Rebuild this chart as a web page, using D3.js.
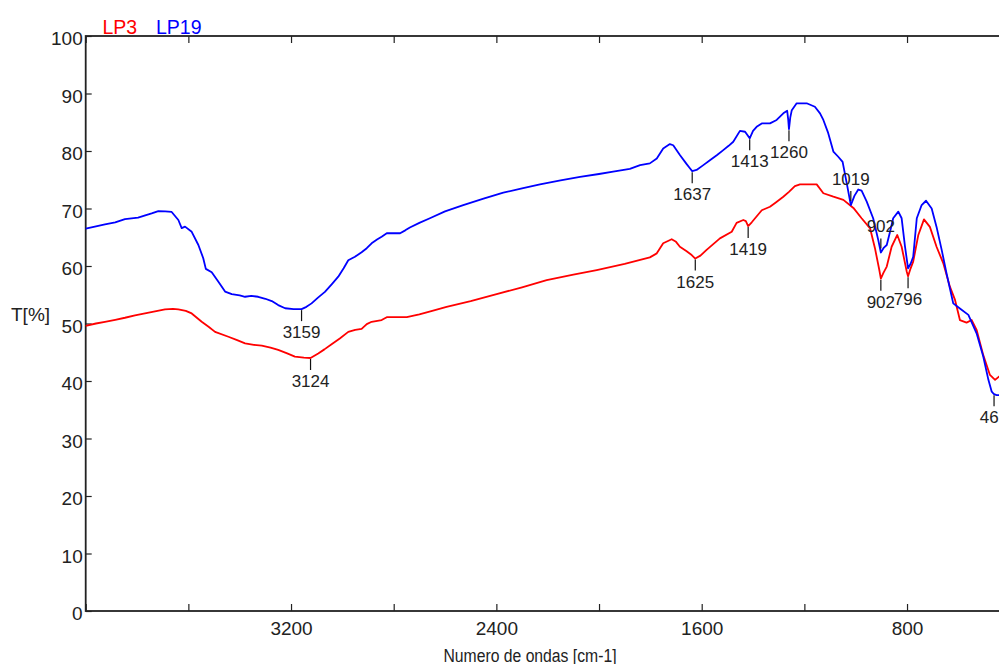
<!DOCTYPE html>
<html>
<head>
<meta charset="utf-8">
<script src="https://cdn.jsdelivr.net/npm/d3@7/dist/d3.min.js"></script>
<style>
  html, body { margin: 0; padding: 0; background: #fff; }
  svg { display: block; font-family: "Liberation Sans", Arial, sans-serif; }
</style>
</head>
<body>
<svg id="chart" width="999" height="664"></svg>
<script>
// FTIR transmittance spectra, wavenumber axis runs high -> low
const seriesNames = ["LP3", "LP19"];
const seriesColors = ["#ff0000", "#0000ff"];

// LP19 (blue)
const lp19Wave = [4000,3960,3925,3885,3847,3796,3743,3717,3690,3665,3639,3626,3613,3587,3561,3542,3532,3509,3483,3457,3431,3400,3379,3355,3328,3300,3275,3250,3223,3190,3159,3140,3120,3095,3068,3040,3016,2995,2977,2951,2935,2925,2905,2886,2865,2847,2827,2800,2775,2755,2737,2700,2659,2600,2529,2450,2373,2300,2230,2150,2074,2000,1945,1880,1840,1802,1775,1750,1724,1711,1685,1660,1646,1637,1620,1595,1568,1540,1516,1495,1477,1451,1431,1413,1400,1386,1366,1334,1308,1282,1267,1263,1260,1255,1249,1230,1191,1159,1139,1126,1107,1087,1068,1051,1035,1019,1005,990,977,957,932,912,902,890,879,866,854,834,821,808,796,786,776,762,743,726,704,685,665,646,620,594,561,529,503,483,470,461,451,430,400];
const lp19T = [66.5,66.9,67.25,67.6,68.15,68.4,69.15,69.55,69.5,69.4,68.0,66.6,66.85,65.95,63.65,61.35,59.5,58.9,57.25,55.55,55.1,54.9,54.65,54.8,54.65,54.3,53.9,53.2,52.65,52.5,52.5,52.9,53.5,54.5,55.5,56.9,58.15,59.6,61.0,61.6,62.1,62.4,63.1,63.95,64.6,65.1,65.7,65.7,65.7,66.2,66.7,67.5,68.3,69.5,70.6,71.7,72.75,73.5,74.2,74.9,75.5,76.0,76.4,76.9,77.55,77.85,78.7,80.45,81.2,81.0,79.3,77.8,77.0,76.5,76.7,77.5,78.4,79.3,80.15,80.9,81.6,83.5,83.35,82.2,83.5,84.2,84.8,84.8,85.4,86.55,87.0,85.5,83.8,85.8,87.1,88.3,88.3,87.7,86.55,85.4,83.1,79.9,79.0,78.1,74.4,70.6,72.2,73.3,73.1,71.2,68.3,64.5,62.35,63.2,63.65,66.0,68.3,69.45,68.3,63.4,59.6,60.4,61.6,68.3,70.6,71.35,70.0,66.8,62.8,58.7,53.5,52.6,51.5,48.3,44.25,40.2,38.15,37.7,37.55,37.5,37.4];

// LP3 (red)
const lp3Wave = [4000,3960,3925,3885,3847,3808,3769,3730,3691,3660,3639,3610,3587,3548,3520,3496,3444,3410,3379,3345,3314,3280,3250,3215,3185,3150,3124,3094,3070,3042,3010,2977,2950,2925,2905,2886,2847,2827,2790,2749,2700,2650,2594,2500,2399,2300,2204,2100,2009,1900,1802,1775,1750,1717,1700,1685,1660,1639,1625,1605,1581,1555,1529,1483,1464,1438,1428,1419,1405,1392,1366,1334,1310,1282,1260,1237,1217,1152,1126,1087,1048,1009,977,944,925,908,902,892,879,860,838,821,801,796,786,776,756,734,711,685,659,633,613,594,568,548,529,503,477,457,442,420,400];
const lp3T = [49.6,50.0,50.3,50.65,51.0,51.4,51.75,52.1,52.45,52.55,52.45,52.2,51.75,50.3,49.4,48.55,47.7,47.1,46.55,46.3,46.15,45.8,45.4,44.8,44.25,44.05,44.0,44.8,45.5,46.4,47.4,48.55,48.9,49.05,49.9,50.3,50.6,51.1,51.1,51.1,51.6,52.2,52.9,53.9,55.1,56.3,57.55,58.5,59.3,60.35,61.5,62.2,63.95,64.65,64.2,63.35,62.6,61.9,61.3,61.8,62.8,63.8,64.8,65.95,67.5,68.0,67.8,66.95,67.6,68.3,69.7,70.3,71.1,72.05,72.9,73.9,74.2,74.2,72.65,72.05,71.5,70.1,68.3,66.55,63.1,59.3,57.8,58.8,59.9,63.35,65.4,63.35,59.0,58.2,59.6,60.75,65.4,68.1,66.8,63.35,60.5,56.4,54.1,50.6,50.15,50.6,48.9,44.5,41.05,40.2,40.75,41.2,41.5];

// Axis ticks
const xTicks = [4000, 3600, 3200, 2800, 2400, 2000, 1600, 1200, 800, 400];
const xTickLabels = [3200, 2400, 1600, 800];
const yTicks = [0, 10, 20, 30, 40, 50, 60, 70, 80, 90, 100];

// Marked bands: wavenumber, series, label side
const peakWave = [3159, 3124, 1637, 1625, 1413, 1419, 1260, 1019, 902, 902, 796, 461];
const peakSeries = ["LP19", "LP3", "LP19", "LP3", "LP19", "LP3", "LP19", "LP19", "LP19", "LP3", "LP3", "LP19"];
const peakSide = ["below", "below", "below", "below", "below", "below", "below", "above", "above", "below", "below", "below"];

const svg = d3.select("#chart");
const x = d3.scaleLinear().domain([4000, 400]).range([85.7, 1009.7]);
const y = d3.scaleLinear().domain([0, 100]).range([611, 36]);

const data = {
  LP3: lp3Wave.map((w, i) => ({ w, t: lp3T[i] })),
  LP19: lp19Wave.map((w, i) => ({ w, t: lp19T[i] }))
};

function valueAt(series, w) {
  const pts = data[series];
  for (let i = 0; i < pts.length - 1; i++) {
    const a = pts[i], b = pts[i + 1];
    if (w <= a.w && w >= b.w) {
      const f = (a.w - w) / (a.w - b.w);
      return a.t + f * (b.t - a.t);
    }
  }
  return pts[pts.length - 1].t;
}

const axisColor = "#222";

// Ticks (inward)
const gx = svg.append("g").attr("transform", `translate(0,${y(0)})`)
  .call(d3.axisBottom(x).tickValues(xTicks).tickSize(-7).tickPadding(0)
    .tickFormat(d => xTickLabels.includes(d) ? String(d) : ""));
gx.select(".domain").remove();
gx.selectAll(".tick line").attr("stroke", axisColor).attr("stroke-width", 1.2);
gx.selectAll(".tick text").attr("y", 23.5).attr("dy", null)
  .attr("font-size", 19).attr("fill", axisColor)
  .attr("font-family", "Liberation Sans, Arial, sans-serif");

const gxt = svg.append("g").attr("transform", `translate(0,${y(100)})`)
  .call(d3.axisTop(x).tickValues(xTicks).tickSize(-7).tickFormat(""));
gxt.select(".domain").remove();
gxt.selectAll(".tick line").attr("stroke", axisColor).attr("stroke-width", 1.2);

const gy = svg.append("g").attr("transform", `translate(${x(4000)},0)`)
  .call(d3.axisLeft(y).tickValues(yTicks).tickSize(-6).tickPadding(0));
gy.select(".domain").remove();
gy.selectAll(".tick line").attr("stroke", axisColor).attr("stroke-width", 1.2);
gy.selectAll(".tick text").attr("x", -3).attr("dy", 8.8)
  .attr("font-size", 19).attr("fill", axisColor)
  .attr("font-family", "Liberation Sans, Arial, sans-serif");

// Frame
svg.append("rect")
  .attr("x", x(4000)).attr("y", y(100))
  .attr("width", x(400) - x(4000)).attr("height", y(0) - y(100))
  .attr("fill", "none").attr("stroke", axisColor).attr("stroke-width", 1.8);

// Spectra
const line = d3.line().x(d => x(d.w)).y(d => y(d.t));
seriesNames.forEach((name, i) => {
  svg.append("path")
    .datum(data[name])
    .attr("d", line)
    .attr("fill", "none")
    .attr("stroke", seriesColors[i])
    .attr("stroke-width", 1.8)
    .attr("stroke-linejoin", "round");
});

// Band markers
const peaks = svg.append("g");
peakWave.forEach((w, i) => {
  const px = x(w);
  const py = y(valueAt(peakSeries[i], w));
  const up = peakSide[i] === "above";
  peaks.append("line")
    .attr("x1", px).attr("x2", px)
    .attr("y1", up ? py - 4 : py + 1)
    .attr("y2", up ? py - 14 : py + 12)
    .attr("stroke", "#111").attr("stroke-width", 1.2);
  peaks.append("text")
    .attr("x", px)
    .attr("y", up ? py - 20 : py + 29)
    .attr("text-anchor", "middle")
    .attr("font-size", 17)
    .attr("fill", "#222")
    .text(String(w));
});

// Axis titles
svg.append("text")
  .attr("x", 530).attr("y", 661.5)
  .attr("text-anchor", "middle")
  .attr("font-size", 18)
  .attr("textLength", 173).attr("lengthAdjust", "spacingAndGlyphs")
  .attr("fill", axisColor)
  .text("Numero de ondas [cm-1]");

svg.append("text")
  .attr("x", 11).attr("y", 321)
  .attr("font-size", 19)
  .attr("fill", axisColor)
  .text("T[%]");

// Legend
const legendX = [102.5, 156];
seriesNames.forEach((name, i) => {
  svg.append("text")
    .attr("x", legendX[i]).attr("y", 33.5)
    .attr("font-size", 19.5)
    .attr("fill", seriesColors[i])
    .text(name);
});
</script>
</body>
</html>
